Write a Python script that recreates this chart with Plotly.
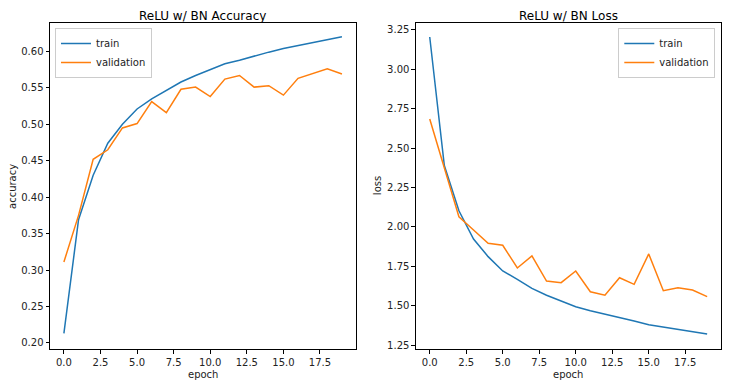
import plotly.graph_objects as go

epochs = list(range(20))
acc_train = [0.213, 0.369, 0.430, 0.474, 0.500, 0.521, 0.535, 0.547, 0.558, 0.567,
             0.575, 0.583, 0.588, 0.594, 0.599, 0.604, 0.608, 0.611, 0.616, 0.620]
acc_val = [0.311, 0.375, 0.452, 0.465, 0.495, 0.501, 0.531, 0.516, 0.548, 0.551,
           0.538, 0.562, 0.567, 0.551, 0.553, 0.540, 0.563, 0.569, 0.576, 0.569]
loss_train = [3.205, 2.39, 2.103, 1.924, 1.812, 1.721, 1.668, 1.611, 1.567, 1.530,
              1.494, 1.469, 1.448, 1.424, 1.403, 1.380, 1.365, 1.353, 1.336, 1.321]
loss_val = [2.685, 2.37, 2.065, 1.981, 1.897, 1.884, 1.740, 1.816, 1.657, 1.647,
            1.721, 1.589, 1.567, 1.678, 1.636, 1.829, 1.596, 1.615, 1.600, 1.558]

BLUE = "#1f77b4"
ORANGE = "#ff7f0e"
FONT = "DejaVu Sans"

OFF = 8  # page body margin
W, H = 730 - OFF, 387 - OFF
L, T = 50 - OFF, 23 - OFF
R = W - (720.7 - OFF)
B = H - (349 - OFF)
PW = W - L - R
PH = H - T - B

def px_x(p):
    return (p - OFF - L) / PW

def px_y(p):
    return 1 - (p - OFF - T) / PH

fig = go.Figure()
fig.add_trace(go.Scatter(x=epochs, y=acc_train, mode="lines", name="train",
                         line=dict(color=BLUE, width=1.5), xaxis="x", yaxis="y", legend="legend"))
fig.add_trace(go.Scatter(x=epochs, y=acc_val, mode="lines", name="validation",
                         line=dict(color=ORANGE, width=1.5), xaxis="x", yaxis="y", legend="legend"))
fig.add_trace(go.Scatter(x=epochs, y=loss_train, mode="lines", name="train",
                         line=dict(color=BLUE, width=1.5), xaxis="x2", yaxis="y2", legend="legend2"))
fig.add_trace(go.Scatter(x=epochs, y=loss_val, mode="lines", name="validation",
                         line=dict(color=ORANGE, width=1.5), xaxis="x2", yaxis="y2", legend="legend2"))

ax_common = dict(showline=True, mirror=True, linecolor="black", linewidth=1,
                 ticks="outside", ticklen=3.5, tickwidth=1, tickcolor="black",
                 showgrid=False, zeroline=False, automargin=False,
                 tickfont=dict(family=FONT, size=10, color="#222"))

top_paper = 1 + T / PH  # top edge of the figure in paper coords

fig.update_layout(
    width=W, height=H,
    margin=dict(l=L, r=R, t=T, b=B, autoexpand=False),
    paper_bgcolor="white", plot_bgcolor="white",
    font=dict(family=FONT, size=10, color="#222"),
    xaxis=dict(domain=[0, px_x(355.7)], range=[-0.95, 19.95], dtick=2.5, tick0=0,
               tickformat=".1f", anchor="y", **ax_common),
    yaxis=dict(domain=[0, 1], range=[0.1916, 0.639], dtick=0.05, tick0=0,
               tickformat=".2f", anchor="x", **ax_common),
    xaxis2=dict(domain=[px_x(415.7), 1], range=[-0.95, 19.95], dtick=2.5, tick0=0,
                tickformat=".1f", anchor="y2", **ax_common),
    yaxis2=dict(domain=[0, 1], range=[1.226, 3.294], dtick=0.25, tick0=0,
                tickformat=".2f", anchor="x2", **ax_common),
    legend=dict(x=px_x(55), y=px_y(28), xanchor="left", yanchor="top",
                bordercolor="#cccccc", borderwidth=1, bgcolor="rgba(255,255,255,0.8)",
                font=dict(family=FONT, size=10, color="#222"), itemwidth=30,
                tracegroupgap=0),
    legend2=dict(x=px_x(715), y=px_y(28), xanchor="right", yanchor="top",
                 bordercolor="#cccccc", borderwidth=1, bgcolor="rgba(255,255,255,0.8)",
                 font=dict(family=FONT, size=10, color="#222"), itemwidth=30,
                 tracegroupgap=0),
    showlegend=True,
    annotations=[
        dict(text="ReLU w/ BN Accuracy", x=px_x((50 + 355.7) / 2), y=top_paper,
             xref="paper", yref="paper", showarrow=False, xanchor="center", yanchor="top",
             borderpad=0, font=dict(family=FONT, size=12, color="black")),
        dict(text="ReLU w/ BN Loss", x=px_x((415.7 + 720.7) / 2), y=top_paper,
             xref="paper", yref="paper", showarrow=False, xanchor="center", yanchor="top",
             borderpad=0, font=dict(family=FONT, size=12, color="black")),
        dict(text="epoch", x=px_x((50 + 355.7) / 2), y=px_y(374),
             xref="paper", yref="paper", showarrow=False, xanchor="center", yanchor="middle",
             font=dict(family=FONT, size=10, color="#222")),
        dict(text="epoch", x=px_x((415.7 + 720.7) / 2), y=px_y(374),
             xref="paper", yref="paper", showarrow=False, xanchor="center", yanchor="middle",
             font=dict(family=FONT, size=10, color="#222")),
        dict(text="accuracy", x=px_x(12), y=px_y(186), textangle=-90,
             xref="paper", yref="paper", showarrow=False, xanchor="center", yanchor="middle",
             font=dict(family=FONT, size=10, color="#222")),
        dict(text="loss", x=px_x(377), y=px_y(186), textangle=-90,
             xref="paper", yref="paper", showarrow=False, xanchor="center", yanchor="middle",
             font=dict(family=FONT, size=10, color="#222")),
    ],
)

fig.write_html("out.html")
